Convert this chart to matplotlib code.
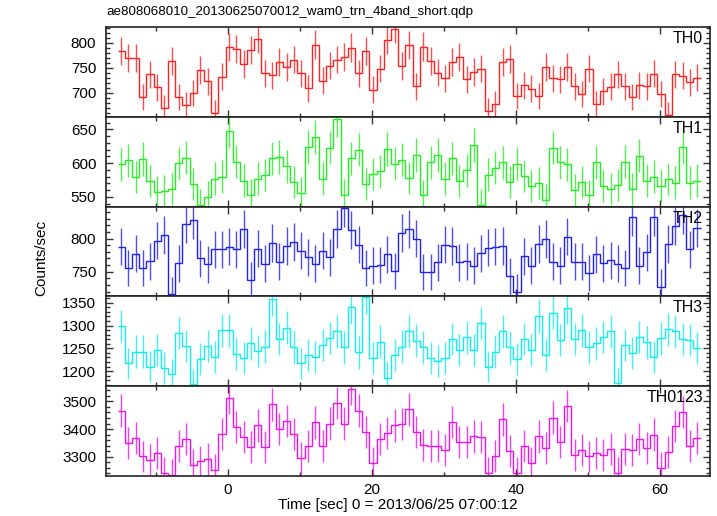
import numpy as np
import matplotlib
matplotlib.use("Agg")
import matplotlib.pyplot as plt
from matplotlib.ticker import MultipleLocator

plt.rcParams['font.family'] = ['Liberation Sans', 'DejaVu Sans']

title = "ae808068010_20130625070012_wam0_trn_4band_short.qdp"
xlabel = "Time [sec] 0 = 2013/06/25 07:00:12"
ylabel = "Counts/sec"

# time binning (s): first bin start and bin width
t_start = -15.3
bin_width = 1.0

band_names = ["TH0", "TH1", "TH2", "TH3", "TH0123"]

th0 = [784, 770, 769, 692, 737, 711, 670, 763, 691, 675, 699, 745, 723, 659, 732,
       791, 787, 757, 785, 807, 739, 735, 761, 751, 766, 739, 709, 796, 724, 754,
       766, 771, 790, 739, 783, 706, 748, 805, 827, 753, 795, 713, 792, 763, 740,
       729, 761, 771, 727, 741, 748, 663, 677, 761, 767, 693, 715, 708, 693, 751,
       729, 727, 751, 713, 697, 748, 677, 703, 712, 737, 713, 692, 715, 713, 738,
       697, 655, 737, 734, 721, 730]

th1 = [598, 604, 579, 606, 573, 557, 559, 562, 600, 608, 569, 538, 550, 577, 580,
       648, 602, 574, 553, 577, 582, 607, 609, 595, 572, 556, 624, 638, 577, 623,
       665, 553, 607, 620, 569, 584, 588, 621, 599, 605, 578, 612, 552, 601, 612,
       577, 607, 573, 589, 627, 538, 583, 593, 601, 572, 599, 581, 566, 570, 545,
       623, 601, 598, 560, 572, 552, 601, 566, 562, 568, 602, 561, 611, 574, 580,
       566, 576, 571, 624, 571, 574]

th2 = [788, 756, 777, 756, 766, 797, 805, 716, 763, 822, 828, 770, 761, 784, 784,
       788, 784, 814, 737, 785, 762, 793, 765, 789, 795, 782, 772, 762, 782, 772,
       815, 846, 813, 791, 756, 759, 760, 776, 751, 808, 814, 800, 750, 750, 764,
       791, 789, 764, 766, 759, 778, 786, 788, 789, 743, 720, 773, 759, 792, 799,
       765, 759, 803, 765, 765, 748, 776, 763, 767, 762, 756, 832, 759, 779, 832,
       727, 792, 819, 836, 784, 816]

th3 = [1299, 1217, 1243, 1243, 1210, 1246, 1207, 1193, 1284, 1255, 1171, 1227, 1255, 1231, 1290,
       1290, 1237, 1229, 1261, 1245, 1254, 1358, 1270, 1295, 1252, 1217, 1235, 1230, 1257, 1273,
       1287, 1252, 1341, 1241, 1362, 1228, 1265, 1185, 1236, 1254, 1288, 1267, 1252, 1228, 1222,
       1228, 1270, 1247, 1274, 1247, 1305, 1210, 1243, 1287, 1252, 1227, 1270, 1246, 1321, 1236,
       1328, 1268, 1339, 1270, 1290, 1252, 1261, 1275, 1287, 1173, 1258, 1240, 1275, 1263, 1230,
       1272, 1292, 1287, 1270, 1268, 1251]

th0123 = [3467, 3348, 3367, 3301, 3287, 3313, 3242, 3235, 3340, 3363, 3269, 3283, 3292, 3253, 3383,
          3513, 3407, 3371, 3335, 3413, 3335, 3489, 3401, 3429, 3383, 3295, 3340, 3424, 3340, 3420,
          3494, 3420, 3546, 3467, 3390, 3277, 3363, 3387, 3413, 3419, 3471, 3390, 3342, 3340, 3337,
          3325, 3426, 3354, 3354, 3373, 3370, 3242, 3302, 3435, 3320, 3242, 3337, 3278, 3373, 3331,
          3441, 3354, 3484, 3307, 3324, 3301, 3313, 3307, 3328, 3242, 3329, 3325, 3363, 3330, 3380,
          3259, 3316, 3410, 3461, 3340, 3369]

series = [th0, th1, th2, th3, th0123]
colors = ["#ff2020", "#22ee22", "#2020ee", "#11eeee", "#ee11ee"]
ylims = [(652, 831), (535.5, 668.5), (713, 848), (1167, 1364), (3230, 3555)]
major_steps = [50, 50, 50, 50, 100]
minor_steps = [10, 10, 10, 10, 20]

fig = plt.figure(figsize=(7.17, 5.16), dpi=100)
gs = fig.add_gridspec(5, 1, left=106/717, right=710/717, top=1-27/516, bottom=1-476/516, hspace=0)
axes = [fig.add_subplot(gs[i]) for i in range(5)]

for i, ax in enumerate(axes):
    vals = np.asarray(series[i], dtype=float)
    n = len(vals)
    edges = t_start + bin_width * np.arange(n + 1)
    centers = 0.5 * (edges[:-1] + edges[1:])
    # Poisson errors for 1-s bins
    err = np.sqrt(vals * bin_width) / bin_width
    ax.errorbar(centers, vals, yerr=err, fmt='none', ecolor=colors[i], elinewidth=1.0, alpha=0.8)
    ax.stairs(vals, edges, baseline=None, color=colors[i], linewidth=1.0)
    ax.set_xlim(-16.9, 67.0)
    ax.set_ylim(*ylims[i])
    ax.xaxis.set_major_locator(MultipleLocator(20))
    ax.xaxis.set_minor_locator(MultipleLocator(10))
    ax.yaxis.set_major_locator(MultipleLocator(major_steps[i]))
    ax.yaxis.set_minor_locator(MultipleLocator(minor_steps[i]))
    ax.tick_params(which='both', direction='in', top=True, right=True, labelsize=11, width=1.0, color='#333333')
    ax.tick_params(which='major', length=5)
    ax.tick_params(which='minor', length=3)
    ax.tick_params(axis='y', pad=7)
    ax.tick_params(axis='x', pad=5)
    for sp in ax.spines.values():
        sp.set_linewidth(1.2)
        sp.set_color('#222222')
    if i < 4:
        ax.tick_params(axis='x', labelbottom=False)
    ax.text(0.988, 0.955, band_names[i], transform=ax.transAxes, ha='right', va='top', fontsize=11.5)

fig.text(106/717, 1-12/516, title, ha='left', va='center', fontsize=9.6)
fig.text(398/717, 1-505/516, xlabel, ha='center', va='center', fontsize=11)
fig.text(41/717, 1-258/516, ylabel, ha='center', va='center', rotation=90, fontsize=11)

fig.savefig("out.png", dpi=100)
